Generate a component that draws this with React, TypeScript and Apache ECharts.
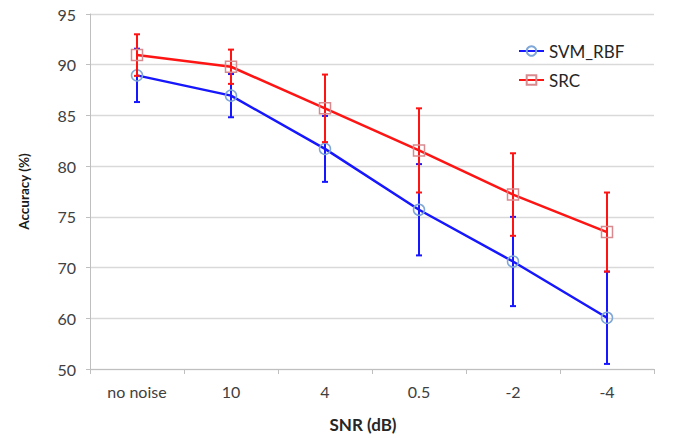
import React, { useEffect, useRef } from "react";
import * as echarts from "echarts";

// SNR levels along the x axis
const snrLevels = ["no noise", "10", "4", "0.5", "-2", "-4"];

// Mean accuracy per SNR level (plotted on the linear value scale)
const svmRbfMean = [88.95, 86.95, 81.7, 75.7, 70.6, 65.05];
const svmRbfErr = [2.63, 2.13, 3.25, 4.5, 4.4, 4.55];

const srcMean = [90.95, 89.8, 85.7, 81.55, 77.2, 73.5];
const srcErr = [2.05, 1.69, 3.33, 4.15, 4.07, 3.9];

// Value scale and the tick labels printed next to each gridline (bottom to top)
const yMin = 60;
const yMax = 95;
const yStep = 5;
const yTickLabels = ["50", "60", "70", "75", "80", "85", "90", "95"];

const FONT = "Lato, 'Open Sans', 'Liberation Sans', sans-serif";
const BLUE = "#1717ff";
const RED = "#ff1414";

function errorData(mean: number[], err: number[]) {
  return mean.map((m, i) => [i, m - err[i], m + err[i]]);
}

function errorSeries(name: string, data: number[][], color: string, z: number) {
  return {
    type: "custom",
    name: name + " error",
    z,
    silent: true,
    data,
    renderItem: (_params: any, api: any) => {
      const x = api.value(0);
      const lo = api.coord([x, api.value(1)]);
      const hi = api.coord([x, api.value(2)]);
      const cap = 3;
      const style = { stroke: color, lineWidth: 2 };
      return {
        type: "group",
        children: [
          { type: "line", shape: { x1: lo[0], y1: lo[1], x2: hi[0], y2: hi[1] }, style },
          { type: "line", shape: { x1: lo[0] - cap, y1: lo[1], x2: lo[0] + cap, y2: lo[1] }, style },
          { type: "line", shape: { x1: hi[0] - cap, y1: hi[1], x2: hi[0] + cap, y2: hi[1] }, style },
        ],
      };
    },
  };
}

export default function App() {
  const ref = useRef<HTMLDivElement>(null);

  useEffect(() => {
    if (!ref.current) return;
    const chart = echarts.init(ref.current, null, { renderer: "svg" });
    chart.setOption({
      animation: false,
      backgroundColor: "#ffffff",
      textStyle: { fontFamily: FONT },
      grid: { left: 90, right: 27, top: 14, bottom: 68 },
      legend: {
        orient: "vertical",
        left: 513,
        top: 37,
        itemWidth: 25,
        itemHeight: 12,
        itemGap: 11,
        textStyle: { fontFamily: FONT, fontSize: 17, lineHeight: 18, color: "#262626" },
        data: ["SVM_RBF", "SRC"],
      },
      xAxis: {
        type: "category",
        data: snrLevels,
        boundaryGap: true,
        name: "SNR (dB)",
        nameLocation: "middle",
        nameGap: 47,
        nameTextStyle: { fontFamily: FONT, fontSize: 17, fontWeight: "bold", color: "#262626", padding: [0, 18, 0, 0] },
        axisLine: { lineStyle: { color: "#bfbfbf", width: 1 } },
        axisTick: { show: true, length: 5, alignWithLabel: false, lineStyle: { color: "#bfbfbf" } },
        axisLabel: { fontFamily: FONT, fontSize: 16, color: "#404040", margin: 14 },
        splitLine: { show: false },
      },
      yAxis: {
        type: "value",
        min: yMin,
        max: yMax,
        interval: yStep,
        name: "Accuracy (%)",
        nameLocation: "middle",
        nameGap: 59,
        nameRotate: 90,
        nameTextStyle: { fontFamily: FONT, fontSize: 13.5, fontWeight: "bold", color: "#1a1a1a" },
        axisLine: { show: true, lineStyle: { color: "#bfbfbf", width: 1 } },
        axisTick: { show: true, length: 4, lineStyle: { color: "#bfbfbf" } },
        axisLabel: {
          fontFamily: FONT,
          fontSize: 16,
          color: "#404040",
          margin: 14,
          formatter: (v: number) => yTickLabels[Math.round((v - yMin) / yStep)] ?? "",
        },
        splitLine: { show: true, lineStyle: { color: "#d9d9d9", width: 1.3 } },
      },
      series: [
        errorSeries("SVM_RBF", errorData(svmRbfMean, svmRbfErr), BLUE, 2),
        {
          type: "line",
          name: "SVM_RBF",
          z: 3,
          data: svmRbfMean,
          symbol: "circle",
          symbolSize: 11,
          showAllSymbol: true,
          lineStyle: { color: BLUE, width: 2.5 },
          itemStyle: { color: "rgba(255,255,255,0)", borderColor: "#7ea6d9", borderWidth: 1.5 },
          emphasis: { disabled: true },
        },
        errorSeries("SRC", errorData(srcMean, srcErr), RED, 4),
        {
          type: "line",
          name: "SRC",
          z: 5,
          data: srcMean,
          symbol: "rect",
          symbolSize: 11,
          showAllSymbol: true,
          lineStyle: { color: RED, width: 2.5 },
          itemStyle: { color: "rgba(255,255,255,0)", borderColor: "#d98a8e", borderWidth: 1.5 },
          emphasis: { disabled: true },
        },
      ],
    });
    return () => chart.dispose();
  }, []);

  return <div ref={ref} style={{ width: 681, height: 438, position: "absolute", left: 0, top: 0 }} />;
}
